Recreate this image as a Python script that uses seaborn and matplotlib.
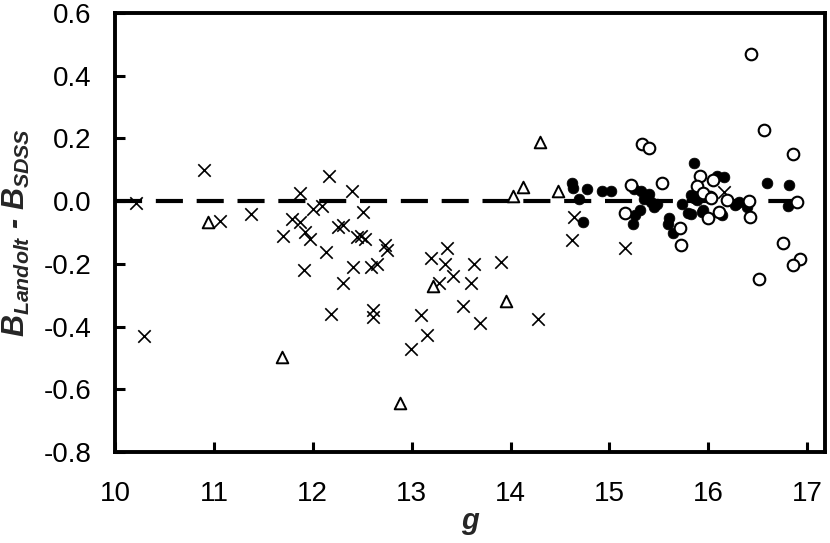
import matplotlib
matplotlib.use('Agg')
import matplotlib.pyplot as plt
import pandas as pd
import seaborn as sns
from matplotlib.ticker import FormatStrFormatter

# Data (g magnitude, B difference)
cross_g = [10.21, 10.29, 10.90, 11.06, 11.38, 11.70, 11.79, 11.87, 11.87, 11.91,
           11.92, 11.97, 12.00, 12.09, 12.16, 12.13, 12.18, 12.25, 12.31, 12.31,
           12.40, 12.51, 12.41, 12.45, 12.49, 12.53, 12.59, 12.65, 12.61, 12.61,
           12.73, 12.75, 13.36, 13.20, 13.34, 13.28, 13.42, 13.63, 13.60, 13.90,
           13.52, 13.69, 13.09, 13.15, 12.99, 14.28, 14.64, 14.62, 15.16, 16.16]
cross_db = [-0.007, -0.43, 0.10, -0.063, -0.04, -0.11, -0.058, 0.025, -0.065, -0.22,
            -0.097, -0.12, -0.026, -0.016, 0.08, -0.163, -0.36, -0.082, -0.076, -0.26,
            0.033, -0.036, -0.21, -0.115, -0.11, -0.12, -0.21, -0.20, -0.347, -0.368,
            -0.14, -0.155, -0.15, -0.18, -0.20, -0.26, -0.24, -0.20, -0.26, -0.193,
            -0.334, -0.39, -0.363, -0.427, -0.473, -0.377, -0.052, -0.124, -0.15, 0.03]

tri_g = [10.94, 11.69, 12.88, 13.22, 13.95, 14.02, 14.13, 14.30, 14.48]
tri_db = [-0.065, -0.496, -0.645, -0.27, -0.32, 0.016, 0.046, 0.19, 0.033]

filled_g = [14.62, 14.63, 14.77, 14.69, 14.73, 14.92, 15.02, 15.25, 15.32, 15.40,
            15.35, 15.42, 15.48, 15.45, 15.31, 15.26, 15.24, 15.73, 15.79, 15.60,
            15.59, 15.64, 15.85, 15.89, 15.94, 15.82, 15.82, 15.86, 15.95, 16.09,
            16.16, 16.14, 16.27, 16.31, 16.28, 16.39, 16.59, 16.82, 16.81]
filled_db = [0.057, 0.041, 0.038, 0.007, -0.068, 0.032, 0.032, 0.04, 0.032, 0.024,
             0.008, -0.002, -0.008, -0.02, -0.029, -0.045, -0.072, -0.01, -0.037, -0.055,
             -0.073, -0.102, 0.123, 0.003, -0.034, 0.019, -0.04, 0.01, -0.027, 0.080,
             0.078, -0.045, -0.013, -0.003, -0.008, -0.018, 0.058, 0.053, -0.016]

open_g = [15.16, 15.22, 15.33, 15.40, 15.53, 15.71, 15.72, 15.92, 15.89, 16.00,
          16.05, 16.02, 15.95, 16.03, 16.11, 16.19, 16.41, 16.42, 16.43, 16.56,
          16.86, 16.90, 16.75, 16.93, 16.86, 16.51]
open_db = [-0.037, 0.051, 0.181, 0.169, 0.058, -0.086, -0.14, 0.08, 0.048, -0.055,
           0.066, 0.014, 0.025, 0.009, -0.035, 0.003, 0.001, -0.05, 0.469, 0.227,
           0.150, -0.002, -0.133, -0.183, -0.204, -0.249]

zero_g = [10, 17]
zero_db = [0, 0]

x_ticks = [10, 11, 12, 13, 14, 15, 16, 17]
y_ticks = [-0.8, -0.6, -0.4, -0.2, 0.0, 0.2, 0.4, 0.6]

sns.set_style('white')
plt.rcParams['font.family'] = ['Liberation Sans', 'DejaVu Sans']
plt.rcParams['axes.unicode_minus'] = False
plt.rcParams['mathtext.fontset'] = 'custom'
plt.rcParams['mathtext.it'] = 'Liberation Sans:italic:bold'
plt.rcParams['mathtext.rm'] = 'Liberation Sans:bold'
plt.rcParams['mathtext.bf'] = 'Liberation Sans:bold'

fig, ax = plt.subplots(figsize=(8.3, 5.43), dpi=100)
fig.subplots_adjust(left=0.1386, right=0.994, top=0.976, bottom=0.1676)

sns.lineplot(x=zero_g, y=zero_db, ax=ax, color='black', linewidth=3.0,
             dashes=False, zorder=1)
ax.lines[-1].set_dashes([6.5, 3.3])

crosses = pd.DataFrame({'g': cross_g, 'dB': cross_db})
tris = pd.DataFrame({'g': tri_g, 'dB': tri_db})
filled = pd.DataFrame({'g': filled_g, 'dB': filled_db})
opens = pd.DataFrame({'g': open_g, 'dB': open_db})

sns.scatterplot(data=crosses, x='g', y='dB', ax=ax, marker='x', s=80,
                color='black', linewidth=1.2, zorder=2)
sns.scatterplot(data=tris, x='g', y='dB', ax=ax, marker='^', s=70,
                facecolor='white', edgecolor='black', linewidth=1.4, zorder=2)
sns.scatterplot(data=filled, x='g', y='dB', ax=ax, marker='o', s=60,
                color='black', edgecolor='black', linewidth=0.5, zorder=3)
sns.scatterplot(data=opens, x='g', y='dB', ax=ax, marker='o', s=70,
                facecolor='white', edgecolor='black', linewidth=1.5, zorder=4)

ax.set_xlim(10, 17.18)
ax.set_ylim(-0.8, 0.6)
ax.set_xticks(x_ticks)
ax.set_yticks(y_ticks)
ax.yaxis.set_major_formatter(FormatStrFormatter('%.1f'))

for sp in ax.spines.values():
    sp.set_visible(True)
    sp.set_color('black')
    sp.set_linewidth(2.8)

ax.tick_params(axis='both', which='major', direction='in', length=7, width=2.2,
               labelsize=20, colors='black')
ax.tick_params(axis='y', pad=17, left=True, right=False)
ax.tick_params(axis='x', pad=21, bottom=True, top=False)

ax.set_xlabel('g', fontsize=21, fontweight='bold', fontstyle='italic', labelpad=0)
ax.set_ylabel(r'$B_{Landolt}$ - $B_{SDSS}$', fontsize=22, fontweight='bold',
              fontstyle='italic', labelpad=8)

fig.savefig('out.png', dpi=100)
